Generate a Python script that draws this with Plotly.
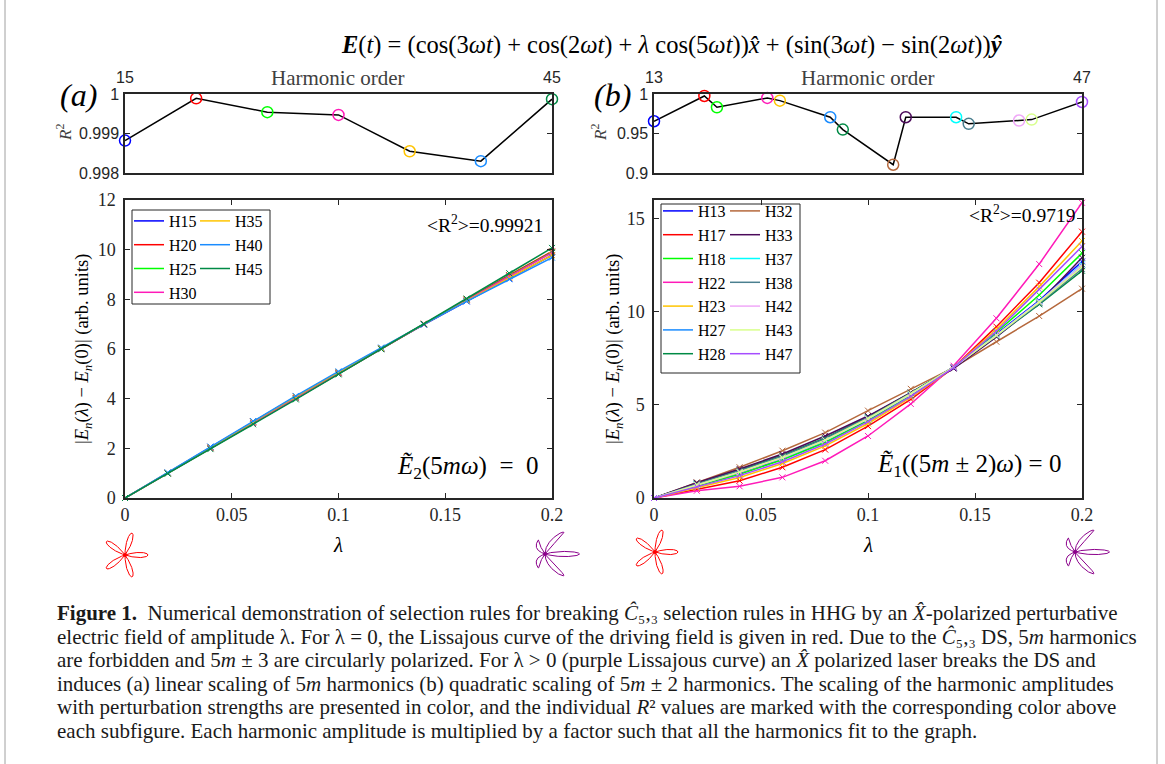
import numpy as np
import plotly.graph_objects as go

W, H = 1165, 764


def fx(p):
    return p / W


def fy(p):
    return 1 - p / H


SERIF = "Liberation Serif"
SANS = "Liberation Sans"
AX = "#262626"

# ---------------- data ----------------
lam = [0, 0.02, 0.04, 0.06, 0.08, 0.10, 0.12, 0.14, 0.16, 0.18, 0.20]

# panel (a): 5m harmonics, linear scaling
harm_a = [15, 20, 25, 30, 35, 40, 45]
r2_a = [0.99882, 0.99989, 0.99954, 0.99947, 0.99855, 0.99830, 0.99987]
col_a = ["#0000FF", "#FF0000", "#00FF00", "#FF1AB8", "#FFC400", "#1A8CFF", "#008A45"]
a_H15 = [0, 1.02, 2.06, 3.08, 4.08, 5.06, 6.03, 6.98, 7.92, 8.84, 9.78]
a_H20 = [0, 1.00, 2.01, 3.02, 4.03, 5.03, 6.03, 7.02, 8.00, 8.97, 9.93]
a_H25 = [0, 1.00, 2.01, 3.02, 4.02, 5.02, 6.01, 7.00, 7.98, 8.95, 9.90]
a_H30 = [0, 1.00, 2.01, 3.02, 4.02, 5.02, 6.01, 7.00, 7.97, 8.93, 9.88]
a_H35 = [0, 1.02, 2.05, 3.07, 4.08, 5.07, 6.04, 7.00, 7.94, 8.87, 9.78]
a_H40 = [0, 1.03, 2.07, 3.10, 4.11, 5.10, 6.06, 7.00, 7.92, 8.81, 9.68]
a_H45 = [0, 0.98, 1.97, 2.97, 3.97, 4.98, 5.99, 7.01, 8.03, 9.05, 10.07]
amps_a = [a_H15, a_H20, a_H25, a_H30, a_H35, a_H40, a_H45]
mean_r2_a = "0.99921"

# panel (b): 5m±2 harmonics, quadratic scaling
harm_b = [13, 17, 18, 22, 23, 27, 28, 32, 33, 37, 38, 42, 43, 47]
r2_b = [0.9655, 0.9975, 0.9832, 0.9950, 0.9916, 0.9706, 0.9550,
        0.9105, 0.9706, 0.9706, 0.9622, 0.9664, 0.9676, 0.9899]
col_b = ["#0000FF", "#FF0000", "#00FF00", "#FF1AB8", "#FFC400", "#1A8CFF", "#008A45",
         "#B5683C", "#4B0A5A", "#00FFFF", "#4A7F8F", "#F0A8F8", "#D8FF8C", "#A64DFF"]
b_H13 = [0, 0.70, 1.35, 2.12, 3.05, 4.20, 5.55, 7.00, 8.80, 10.60, 12.70]
b_H17 = [0, 0.48, 0.93, 1.65, 2.60, 3.86, 5.30, 7.00, 9.20, 11.56, 14.30]
b_H18 = [0, 0.65, 1.28, 2.05, 2.98, 4.15, 5.50, 7.00, 8.90, 10.90, 13.15]
b_H22 = [0, 0.39, 0.63, 1.11, 2.00, 3.33, 5.05, 7.10, 9.65, 12.56, 15.85]
b_H23 = [0, 0.55, 1.10, 1.85, 2.80, 4.00, 5.40, 7.00, 9.05, 11.35, 13.80]
b_H27 = [0, 0.74, 1.42, 2.20, 3.12, 4.28, 5.60, 7.02, 8.72, 10.50, 12.45]
b_H28 = [0, 0.78, 1.50, 2.30, 3.22, 4.36, 5.66, 7.03, 8.68, 10.40, 12.20]
b_H32 = [0, 0.84, 1.65, 2.54, 3.51, 4.69, 5.86, 7.00, 8.39, 9.77, 11.24]
b_H33 = [0, 0.82, 1.56, 2.36, 3.33, 4.40, 5.65, 6.95, 8.65, 10.50, 12.90]
b_H37 = [0, 0.72, 1.40, 2.15, 3.08, 4.25, 5.58, 7.02, 8.75, 10.55, 12.55]
b_H38 = [0, 0.76, 1.46, 2.25, 3.18, 4.32, 5.63, 7.03, 8.70, 10.45, 12.30]
b_H42 = [0, 0.70, 1.38, 2.15, 3.10, 4.25, 5.58, 7.02, 8.75, 10.55, 12.50]
b_H43 = [0, 0.72, 1.40, 2.18, 3.10, 4.27, 5.60, 7.02, 8.72, 10.50, 12.40]
b_H47 = [0, 0.60, 1.20, 1.95, 2.90, 4.10, 5.45, 7.00, 8.95, 11.20, 13.50]
amps_b = [b_H13, b_H17, b_H18, b_H22, b_H23, b_H27, b_H28,
          b_H32, b_H33, b_H37, b_H38, b_H42, b_H43, b_H47]
mean_r2_b = "0.9719"

# Lissajous curves of the driving field (from the title equation)
lam_liss = [0.0, 0.5]
liss_col = ["#FF0000", "#8B008B"]

# ---------------- figure ----------------
fig = go.Figure()

dom_x_a = [fx(125), fx(552)]
dom_x_b = [fx(654), fx(1082)]
dom_y_top = [fy(173), fy(94)]
dom_y_bot = [fy(498), fy(200)]

fig.add_trace(go.Scatter(x=harm_a, y=r2_a, mode="lines+markers", xaxis="x", yaxis="y",
                         line=dict(color="black", width=1.5), cliponaxis=False, showlegend=False,
                         marker=dict(symbol="circle-open", size=11, color=col_a, line=dict(width=1.5))))
fig.add_trace(go.Scatter(x=harm_b, y=r2_b, mode="lines+markers", xaxis="x3", yaxis="y3",
                         line=dict(color="black", width=1.5), cliponaxis=False, showlegend=False,
                         marker=dict(symbol="circle-open", size=11, color=col_b, line=dict(width=1.5))))

for h, c, v in zip(harm_a, col_a, amps_a):
    fig.add_trace(go.Scatter(x=lam, y=v, mode="lines+markers", xaxis="x2", yaxis="y2",
                             line=dict(color=c, width=1.5), cliponaxis=False, showlegend=False,
                             marker=dict(symbol="x-thin", size=6, line=dict(color=c, width=1))))
for h, c, v in zip(harm_b, col_b, amps_b):
    fig.add_trace(go.Scatter(x=lam, y=v, mode="lines+markers", xaxis="x4", yaxis="y4",
                             line=dict(color=c, width=1.5), cliponaxis=False, showlegend=False,
                             marker=dict(symbol="x-thin", size=6, line=dict(color=c, width=1))))

for i, (h, c) in enumerate(zip(harm_a, col_a)):
    fig.add_trace(go.Scatter(x=[None], y=[None], mode="lines", xaxis="x2", yaxis="y2",
                             line=dict(color=c, width=1.5), name=f"H{h}",
                             legend="legend" if i < 4 else "legend2"))
for i, (h, c) in enumerate(zip(harm_b, col_b)):
    fig.add_trace(go.Scatter(x=[None], y=[None], mode="lines", xaxis="x4", yaxis="y4",
                             line=dict(color=c, width=1.5), name=f"H{h}",
                             legend="legend3" if i < 7 else "legend4"))

t = np.linspace(0, 2 * np.pi, 1500)
s = 11.5
half = 37
flowers = [(125, 555, 0), (545, 554, 1), (655, 552, 0), (1075, 552, 1)]
for k, (cx, cy, j) in enumerate(flowers):
    L = lam_liss[j]
    ex = np.cos(3 * t) + np.cos(2 * t) + L * np.cos(5 * t)
    ey = np.sin(3 * t) - np.sin(2 * t)
    n = 5 + k
    fig.add_trace(go.Scatter(x=ex, y=ey, mode="lines", xaxis=f"x{n}", yaxis=f"y{n}",
                             line=dict(color=liss_col[j], width=1), showlegend=False))
    fig.add_trace(go.Scatter(x=[-L], y=[0], mode="markers", xaxis=f"x{n}", yaxis=f"y{n}",
                             marker=dict(color=liss_col[j], size=4), showlegend=False))
    fig.layout[f"xaxis{n}"] = dict(domain=[fx(cx - half), fx(cx + half)], visible=False,
                                   range=[-L - half / s, -L + half / s], anchor=f"y{n}")
    fig.layout[f"yaxis{n}"] = dict(domain=[fy(cy + half), fy(cy - half)], visible=False,
                                   range=[-half / s, half / s], anchor=f"x{n}")

box = dict(showline=True, linecolor=AX, linewidth=1.5, mirror="ticks", ticks="inside",
           ticklen=5, tickcolor=AX, tickwidth=1, showgrid=False, zeroline=False, automargin=False)

fig.update_layout(
    width=W, height=H, margin=dict(l=0, r=0, t=0, b=0, autoexpand=False),
    paper_bgcolor="white", plot_bgcolor="white",
    xaxis=dict(box, domain=dom_x_a, anchor="y", range=[15, 45], side="top", ticks="",
               tickvals=[15, 45], ticktext=["15", "45"], ticklabelstandoff=3,
               tickfont=dict(family=SANS, size=16, color=AX)),
    yaxis=dict(box, domain=dom_y_top, anchor="x", range=[0.998, 1.0],
               tickvals=[0.998, 0.999, 1.0], ticktext=["0.998", "0.999", "1"],
               ticklabelstandoff=1, tickfont=dict(family=SANS, size=16, color=AX)),
    xaxis2=dict(box, domain=dom_x_a, anchor="y2", range=[0, 0.2], dtick=0.05,
                tickfont=dict(family=SERIF, size=18, color=AX)),
    yaxis2=dict(box, domain=dom_y_bot, anchor="x2", range=[0, 12], dtick=2,
                ticklabelstandoff=4, tickfont=dict(family=SERIF, size=18, color=AX)),
    xaxis3=dict(box, domain=dom_x_b, anchor="y3", range=[13, 47], side="top", ticks="",
                tickvals=[13, 47], ticktext=["13", "47"], ticklabelstandoff=3,
                tickfont=dict(family=SANS, size=16, color=AX)),
    yaxis3=dict(box, domain=dom_y_top, anchor="x3", range=[0.9, 1.0],
                tickvals=[0.9, 0.95, 1.0], ticktext=["0.9", "0.95", "1"],
                ticklabelstandoff=1, tickfont=dict(family=SANS, size=16, color=AX)),
    xaxis4=dict(box, domain=dom_x_b, anchor="y4", range=[0, 0.2], dtick=0.05,
                tickfont=dict(family=SERIF, size=18, color=AX)),
    yaxis4=dict(box, domain=dom_y_bot, anchor="x4", range=[0, 16], dtick=5,
                ticklabelstandoff=4, tickfont=dict(family=SERIF, size=18, color=AX)),
)

leg = dict(font=dict(family=SERIF, size=16, color="black"), bgcolor="rgba(0,0,0,0)",
           borderwidth=0, xanchor="left", yanchor="top", tracegroupgap=0, itemwidth=30)
fig.update_layout(
    legend=dict(leg, x=fx(129), y=fy(204)),
    legend2=dict(leg, x=fx(195), y=fy(204)),
    legend3=dict(leg, x=fx(658), y=fy(194)),
    legend4=dict(leg, x=fx(725), y=fy(194)),
)

shapes = [
    dict(type="rect", xref="paper", yref="paper", x0=fx(132), x1=fx(270), y0=fy(304), y1=fy(210),
         line=dict(color=AX, width=1), fillcolor="white", layer="below"),
    dict(type="rect", xref="paper", yref="paper", x0=fx(661), x1=fx(800), y0=fy(373), y1=fy(204),
         line=dict(color=AX, width=1), fillcolor="white", layer="below"),
    dict(type="line", xref="paper", yref="paper", x0=fx(5), x1=fx(5), y0=0, y1=1,
         line=dict(color="#A0A0A0", width=1)),
    dict(type="line", xref="paper", yref="paper", x0=fx(1157), x1=fx(1157), y0=0, y1=1,
         line=dict(color="#A0A0A0", width=1)),
]
fig.update_layout(shapes=shapes)

ann = []


def A(x, y, text, size, xanchor="center", family=SERIF, color="black", angle=0):
    ann.append(dict(x=fx(x), y=fy(y), xref="paper", yref="paper", text=text, showarrow=False,
                    xanchor=xanchor, yanchor="middle", textangle=angle,
                    font=dict(family=family, size=size, color=color)))


A(671, 45, "<b><i>E</i></b>(<i>t</i>) = (cos(3<i>ωt</i>) + cos(2<i>ωt</i>) + <i>λ</i> cos(5<i>ωt</i>))"
           "<i>x̂</i> + (sin(3<i>ωt</i>) − sin(2<i>ωt</i>))<b><i>ŷ</i></b>", 24.5)
A(79, 95, "<i>(a)</i>", 32)
A(612, 95, "<i>(b)</i>", 32)
A(338, 78, "Harmonic order", 21, color="#404040")
A(868, 78, "Harmonic order", 21, color="#404040")
A(64, 133, "<i>R</i><sup>2</sup>", 17, color="#404040", angle=-90)
A(599, 133, "<i>R</i><sup>2</sup>", 17, color="#404040", angle=-90)
ytitle = "|<i>E<sub>n</sub></i>(<i>λ</i>) − <i>E<sub>n</sub></i>(0)| (arb. units)"
A(83, 349, ytitle, 18.5, angle=-90)
A(614, 349, ytitle, 18.5, angle=-90)
A(338, 545, "<i>λ</i>", 21)
A(868, 545, "<i>λ</i>", 21)
A(545, 224, f"&lt;R<sup>2</sup>&gt;={mean_r2_a}", 19.5, xanchor="right")
A(1077, 214, f"&lt;R<sup>2</sup>&gt;={mean_r2_b}", 19.5, xanchor="right")
A(541, 467, "<i>Ẽ</i><sub>2</sub>(5<i>mω</i>)  =  0", 25, xanchor="right")
A(1063, 465, "<i>Ẽ</i><sub>1</sub>((5<i>m</i> ± 2)<i>ω</i>) = 0", 25, xanchor="right")

caption = [
    "<b>Figure 1.</b>  Numerical demonstration of selection rules for breaking <i>Ĉ</i>₅,₃ "
    "selection rules in HHG by an <i>X̂</i>-polarized perturbative",
    "electric field of amplitude λ. For λ = 0, the Lissajous curve of the driving field is given in red. "
    "Due to the <i>Ĉ</i>₅,₃ DS, 5<i>m</i> harmonics",
    "are forbidden and 5<i>m</i> ± 3 are circularly polarized. For λ &gt; 0 (purple Lissajous curve) an "
    "<i>X̂</i> polarized laser breaks the DS and",
    "induces (a) linear scaling of 5<i>m</i> harmonics (b) quadratic scaling of 5<i>m</i> ± 2 harmonics. "
    "The scaling of the harmonic amplitudes",
    "with perturbation strengths are presented in color, and the individual <i>R</i>² values "
    "are marked with the corresponding color above",
    "each subfigure. Each harmonic amplitude is multiplied by a factor such that all the harmonics fit to the graph.",
]
for i, line in enumerate(caption):
    A(55, 613 + i * 23.6, line, 21, xanchor="left", color="#1a1a1a")

fig.update_layout(annotations=ann)

post = "document.body.style.margin='0';document.body.style.overflow='hidden';"
fig.write_html("out.html", config={"displayModeBar": False}, post_script=post)
